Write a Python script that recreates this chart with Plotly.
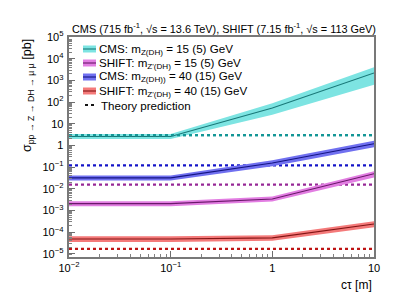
import plotly.graph_objects as go

# ---------------- data ----------------
ctau = [0.01, 0.1, 1, 10]

cms15_mid = [2.6, 2.6, 53, 2200]
cms15_up = [3.4, 3.4, 88, 4000]
cms15_lo = [2.0, 2.0, 26, 630]
cms15_theory = 3.0

shift15_mid = [0.0021, 0.0021, 0.0034, 0.050]
shift15_up = [0.0027, 0.0027, 0.0044, 0.065]
shift15_lo = [0.0016, 0.0016, 0.0026, 0.033]
shift15_theory = 0.0156

cms40_mid = [0.032, 0.032, 0.156, 1.21]
cms40_up = [0.041, 0.041, 0.21, 1.66]
cms40_lo = [0.024, 0.024, 0.11, 0.83]
cms40_theory = 0.12

shift40_mid = [4.9e-5, 4.9e-5, 5.5e-5, 2.4e-4]
shift40_up = [6.6e-5, 6.6e-5, 7.3e-5, 3.2e-4]
shift40_lo = [3.6e-5, 3.6e-5, 4.1e-5, 1.7e-4]
shift40_theory = 1.7e-5

labels = [
    "CMS: m<sub>Z(DH)</sub> = 15 (5) GeV",
    "SHIFT: m<sub>Z'(DH)</sub> = 15 (5) GeV",
    "CMS: m<sub>Z(DH))</sub> = 40 (15) GeV",
    "SHIFT: m<sub>Z'(DH)</sub> = 40 (15) GeV",
]
theory_label = "Theory prediction"

band_colors = ["rgb(125,228,226)", "rgb(226,125,226)", "rgb(112,112,240)", "rgb(244,122,122)"]
line_colors = ["rgb(25,120,120)", "rgb(105,25,105)", "rgb(20,20,130)", "rgb(130,20,20)"]
theory_colors = ["rgb(20,150,150)", "rgb(150,40,150)", "rgb(20,20,200)", "rgb(190,20,20)"]

series = [
    (cms15_mid, cms15_up, cms15_lo, cms15_theory),
    (shift15_mid, shift15_up, shift15_lo, shift15_theory),
    (cms40_mid, cms40_up, cms40_lo, cms40_theory),
    (shift40_mid, shift40_up, shift40_lo, shift40_theory),
]

FONT = "Liberation Sans, Arial, Helvetica, sans-serif"

fig = go.Figure()

# theory lines first (drawn below bands)
for i, (mid, up, lo, th) in enumerate(series):
    fig.add_trace(go.Scatter(x=[ctau[0], ctau[-1]], y=[th, th], mode="lines",
                             line=dict(color=theory_colors[i], width=2.2, dash="dot"),
                             showlegend=False, hoverinfo="skip"))

for i, (mid, up, lo, th) in enumerate(series):
    fig.add_trace(go.Scatter(x=ctau, y=lo, mode="lines", line=dict(width=0),
                             showlegend=False, hoverinfo="skip"))
    fig.add_trace(go.Scatter(x=ctau, y=up, mode="lines", line=dict(width=0),
                             fill="tonexty", fillcolor=band_colors[i],
                             showlegend=False, hoverinfo="skip"))
    fig.add_trace(go.Scatter(x=ctau, y=mid, mode="lines",
                             line=dict(color=line_colors[i], width=1.1),
                             showlegend=False))

# re-draw theory for cyan on top (it sits on the band in the reference)
fig.add_trace(go.Scatter(x=[ctau[0], ctau[-1]], y=[cms15_theory, cms15_theory], mode="lines",
                         line=dict(color=theory_colors[0], width=2.2, dash="dot"),
                         showlegend=False, hoverinfo="skip"))

# ---------------- manual legend (paper coords) ----------------
L, R, T, B = 61, 366, 29, 249
W, H = R - L, B - T


def px(x):
    return (x - L) / W


def py(y):
    return (B - y) / H


shapes = []
annotations = []
rows = [41, 55, 69, 83, 97]
for i, lab in enumerate(labels):
    yc = rows[i]
    shapes.append(dict(type="rect", xref="paper", yref="paper",
                       x0=px(75), x1=px(88), y0=py(yc + 3.5), y1=py(yc - 3.5),
                       fillcolor=band_colors[i], line=dict(width=0)))
    shapes.append(dict(type="line", xref="paper", yref="paper",
                       x0=px(75), x1=px(88), y0=py(yc), y1=py(yc),
                       line=dict(color=line_colors[i], width=1.1)))
    annotations.append(dict(text=lab, xref="paper", yref="paper", x=px(88.5), y=py(yc),
                            xanchor="left", yanchor="middle", showarrow=False,
                            font=dict(size=11.6, color="black", family=FONT)))
yc = rows[4]
shapes.append(dict(type="line", xref="paper", yref="paper",
                   x0=px(77), x1=px(87.5), y0=py(yc), y1=py(yc),
                   line=dict(color="rgb(20,20,20)", width=2, dash="dot")))
annotations.append(dict(text=theory_label, xref="paper", yref="paper", x=px(90.5), y=py(yc),
                        xanchor="left", yanchor="middle", showarrow=False,
                        font=dict(size=11.6, color="black", family=FONT)))

# axis titles
annotations.append(dict(text="σ<sub>pp → Z → DH → μ μ</sub> [pb]", xref="paper", yref="paper",
                        x=px(20), y=py(88), xanchor="center", yanchor="middle",
                        textangle=-90, showarrow=False,
                        font=dict(size=12.5, color="black", family=FONT)))
annotations.append(dict(text="cτ [m]", xref="paper", yref="paper",
                        x=1.0, y=py(277), xanchor="right", yanchor="middle",
                        showarrow=False, font=dict(size=12, color="black", family=FONT)))

axis_common = dict(
    type="log", showgrid=False, zeroline=False,
    showline=True, linecolor="rgb(120,120,120)", linewidth=1.5, mirror=True,
    ticks="inside", ticklen=6, tickwidth=1, tickcolor="rgb(110,110,110)",
    dtick=1, exponentformat="power",
    tickfont=dict(size=8.8, color="black", family=FONT),
    minor=dict(ticks="inside", ticklen=3, tickwidth=1, tickcolor="rgb(130,130,130)",
               dtick="D1", showgrid=False),
)

fig.update_layout(
    width=407, height=294,
    margin=dict(l=L, r=407 - R, t=T, b=294 - B),
    paper_bgcolor="white", plot_bgcolor="white",
    showlegend=False,
    title=dict(text="CMS (715 fb<sup>-1</sup>, √s = 13.6 TeV), SHIFT (7.15 fb<sup>-1</sup>, √s = 113 GeV)",
               x=216 / 407, xref="container", xanchor="center",
               y=1 - 21 / 294, yref="container", yanchor="middle",
               font=dict(size=10.9, color="black", family=FONT)),
    xaxis=dict(range=[-2, 1], **axis_common),
    yaxis=dict(range=[-5.14, 5.0], ticklabelstandoff=2, **axis_common),
    shapes=shapes,
    annotations=annotations,
)

fig.write_html("out.html")
